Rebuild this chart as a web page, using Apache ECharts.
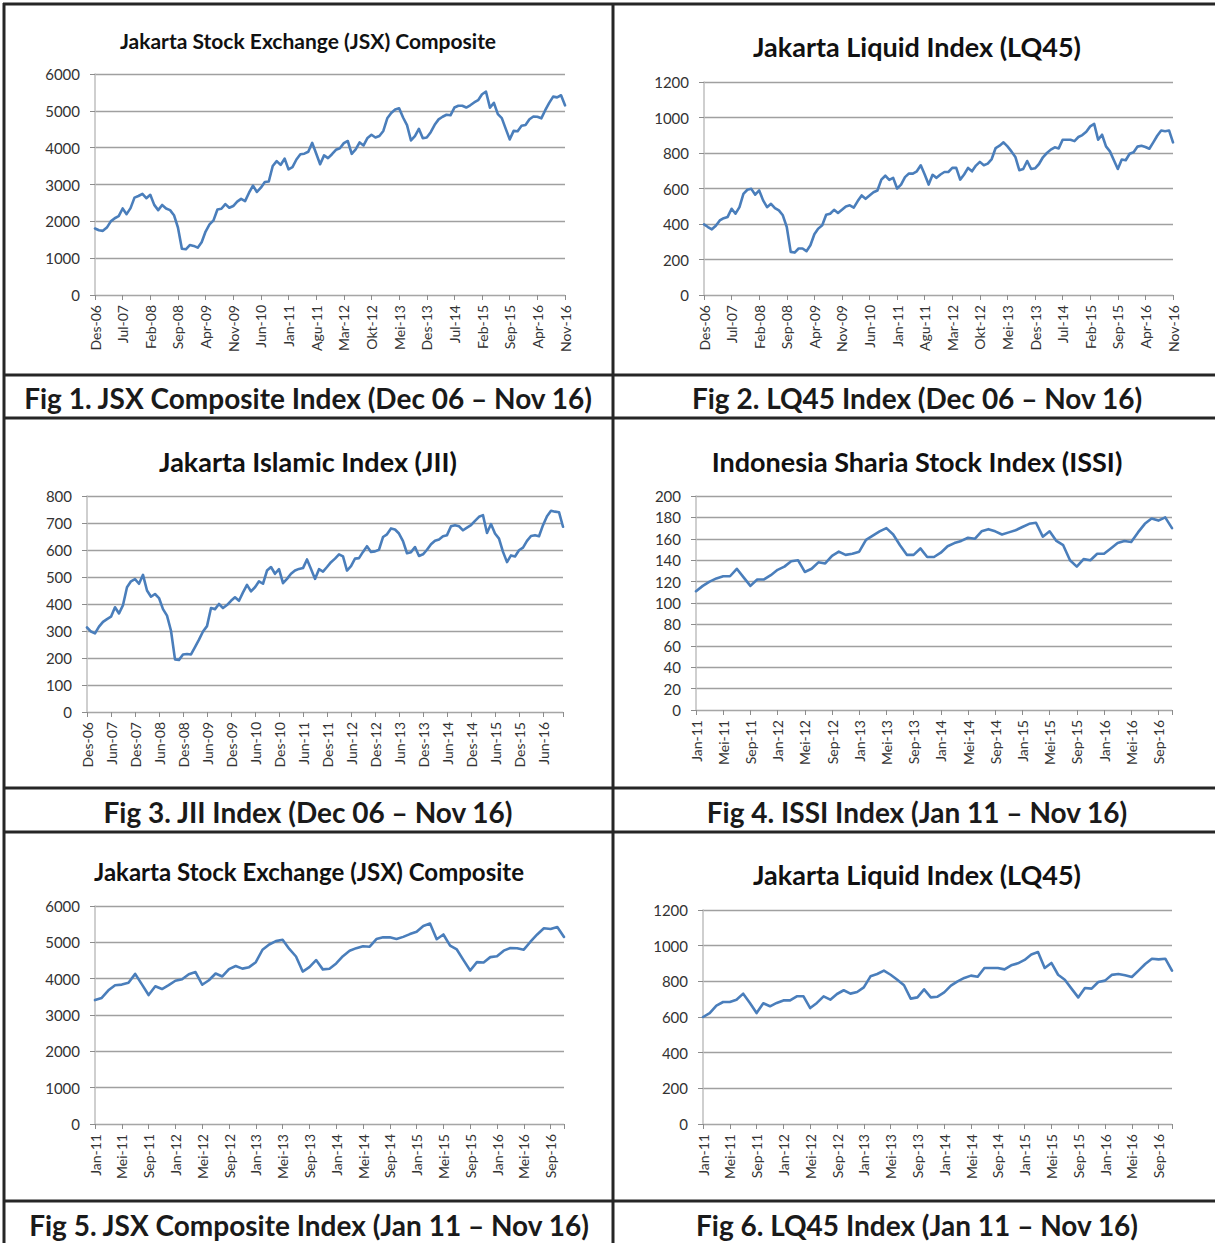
<!DOCTYPE html>
<html>
<head>
<meta charset="utf-8">
<title>Indeks Saham Indonesia</title>
<script src="https://cdn.jsdelivr.net/npm/echarts@6/dist/echarts.min.js"></script>
<style>
  html, body { margin: 0; padding: 0; background: #fff; }
  #main { width: 1215px; height: 1243px; }
</style>
</head>
<body>
<div id="main"></div>
<script>
  // nama bulan (Indonesia)
  var MONTHS = ['Jan', 'Feb', 'Mar', 'Apr', 'Mei', 'Jun', 'Jul', 'Agu', 'Sep', 'Okt', 'Nov', 'Des'];

  function monthLabels(year, month, count) {
    var out = [];
    for (var i = 0; i < count; i++) {
      var m = (month + i) % 12;
      var y = year + Math.floor((month + i) / 12);
      out.push(MONTHS[m] + '-' + String(y).slice(2));
    }
    return out;
  }

  var catLong = monthLabels(2006, 11, 120);   // Des-06 .. Nov-16
  var catShort = monthLabels(2011, 0, 71);    // Jan-11 .. Nov-16

  // JSX Composite, Des-06 .. Nov-16
  var jsx = [1806,
    1758, 1741, 1830, 1999, 2084, 2139, 2349, 2195, 2359, 2643, 2688, 2746,
    2627, 2721, 2447, 2304, 2444, 2350, 2304, 2166, 1832, 1257, 1241, 1355,
    1333, 1285, 1434, 1723, 1917, 2027, 2323, 2342, 2468, 2368, 2416, 2534,
    2611, 2549, 2777, 2971, 2797, 2914, 3069, 3082, 3501, 3635, 3531, 3704,
    3410, 3470, 3679, 3820, 3837, 3889, 4131, 3842, 3549, 3791, 3715, 3822,
    3942, 3985, 4122, 4181, 3833, 3956, 4142, 4060, 4263, 4350, 4276, 4317,
    4454, 4796, 4941, 5034, 5069, 4819, 4610, 4195, 4316, 4511, 4256, 4274,
    4419, 4620, 4768, 4840, 4894, 4879, 5089, 5137, 5138, 5090, 5150, 5227,
    5289, 5450, 5519, 5086, 5216, 4911, 4803, 4510, 4224, 4455, 4446, 4593,
    4615, 4771, 4845, 4839, 4797, 5017, 5216, 5386, 5365, 5423, 5149];

  // LQ45, Des-06 .. Des-10
  var lq45Early = [398,
    383, 370, 390, 420, 433, 440, 486, 458, 495, 570, 593, 598,
    565, 589, 533, 495, 514, 490, 477, 449, 383, 243, 239, 262,
    262, 247, 280, 342, 374, 393, 452, 458, 480, 462, 480, 499,
    505, 492, 529, 561, 542, 561, 579, 589, 650, 672, 648, 660];

  // LQ45, Jan-11 .. Nov-16
  var lq45Late = [
    600, 622, 664, 684, 684, 697, 731, 679, 622, 677, 660, 679,
    693, 693, 716, 716, 650, 679, 716, 697, 729, 750, 731, 740,
    766, 828, 841, 860, 837, 809, 778, 703, 710, 755, 710, 714,
    738, 776, 800, 819, 832, 826, 875, 875, 875, 867, 890, 901,
    920, 950, 964, 875, 903, 837, 809, 759, 710, 763, 759, 796,
    804, 836, 841, 834, 824, 860, 897, 927, 923, 927, 860];

  // JII, Des-06 .. Nov-16
  var jii = [313,
    298, 291, 316, 334, 344, 353, 388, 365, 396, 462, 484, 492,
    475, 508, 450, 427, 437, 422, 381, 357, 301, 195, 193, 213,
    215, 213, 240, 268, 298, 318, 385, 381, 400, 385, 396, 412,
    425, 412, 443, 471, 447, 462, 484, 475, 524, 537, 512, 529,
    477, 493, 512, 524, 530, 533, 565, 530, 493, 529, 520, 537,
    555, 568, 584, 576, 524, 540, 568, 570, 593, 614, 593, 595,
    601, 648, 658, 680, 676, 661, 633, 588, 592, 611, 578, 584,
    601, 621, 634, 639, 651, 655, 688, 692, 688, 673, 683, 692,
    708, 723, 729, 663, 696, 661, 642, 593, 555, 580, 576, 599,
    609, 634, 652, 655, 651, 692, 725, 745, 742, 740, 686];

  // ISSI, Jan-11 .. Nov-16
  var issi = [
    111, 116, 120, 123, 125, 125, 132, 124, 116, 122, 122, 126,
    131, 134, 139, 140, 129, 132, 138, 137, 144, 148, 145, 146,
    148, 159, 163, 167, 170, 164, 154, 145, 145, 151, 143, 143,
    147, 153, 156, 158, 161, 160, 167, 169, 167, 164, 166, 168,
    171, 174, 175, 162, 167, 158, 154, 140, 134, 141, 140, 146,
    146, 151, 156, 158, 157, 166, 174, 179, 177, 180, 170];

  var panels = [
    {
      title: 'Jakarta Stock Exchange (JSX) Composite', titleSize: 21, tx: 308, ty: 40,
      caption: 'Fig 1. JSX Composite Index (Dec 06 \u2013 Nov 16)', cy: 398,
      cats: catLong, data: jsx, max: 6000, step: 1000, every: 7,
      grid: {left: 95, top: 74, width: 470, height: 221}
    },
    {
      title: 'Jakarta Liquid Index (LQ45)', titleSize: 27, tx: 917, ty: 46,
      caption: 'Fig 2. LQ45 Index (Dec 06 \u2013 Nov 16)', cy: 398,
      cats: catLong, data: lq45Early.concat(lq45Late), max: 1200, step: 200, every: 7,
      grid: {left: 704, top: 82, width: 469, height: 213}
    },
    {
      title: 'Jakarta Islamic Index (JII)', titleSize: 27, tx: 308, ty: 461,
      caption: 'Fig 3. JII Index (Dec 06 \u2013 Nov 16)', cy: 812,
      cats: catLong, data: jii, max: 800, step: 100, every: 6,
      grid: {left: 87, top: 496, width: 476, height: 216}
    },
    {
      title: 'Indonesia Sharia Stock Index (ISSI)', titleSize: 27, tx: 917, ty: 461,
      caption: 'Fig 4. ISSI Index (Jan 11 \u2013 Nov 16)', cy: 812,
      cats: catShort, data: issi, max: 200, step: 20, every: 4,
      grid: {left: 696, top: 496, width: 476, height: 214}
    },
    {
      title: 'Jakarta Stock Exchange (JSX) Composite', titleSize: 24, tx: 309, ty: 871,
      caption: 'Fig 5. JSX Composite Index (Jan 11 \u2013 Nov 16)', cy: 1225,
      cats: catShort, data: jsx.slice(49), max: 6000, step: 1000, every: 4,
      grid: {left: 95, top: 906, width: 469, height: 218}
    },
    {
      title: 'Jakarta Liquid Index (LQ45)', titleSize: 27, tx: 917, ty: 874,
      caption: 'Fig 6. LQ45 Index (Jan 11 \u2013 Nov 16)', cy: 1225,
      cats: catShort, data: lq45Late, max: 1200, step: 200, every: 4,
      grid: {left: 703, top: 910, width: 469, height: 214}
    }
  ];

  var FONT = 'Lato, "Open Sans", sans-serif';
  var LINE = '#4a7ebb';
  var BORDER = '#262626';

  var titles = [], grids = [], xAxes = [], yAxes = [], series = [];

  panels.forEach(function (p, i) {
    titles.push({
      text: p.title, left: p.tx, top: p.ty, padding: 0,
      textAlign: 'center', textVerticalAlign: 'middle',
      textStyle: {fontFamily: FONT, fontWeight: 'bold', fontSize: p.titleSize, color: '#111'}
    });
    titles.push({
      text: p.caption, left: p.tx, top: p.cy, padding: 0,
      textAlign: 'center', textVerticalAlign: 'middle',
      textStyle: {fontFamily: FONT, fontWeight: 'bold', fontSize: 28, color: '#1a1a1a'}
    });
    grids.push(Object.assign({containLabel: false}, p.grid));

    var last = p.cats.length - 1;
    xAxes.push({
      gridIndex: i, type: 'category', boundaryGap: false, data: p.cats,
      axisLine: {lineStyle: {color: '#a6a6a6', width: 1.2}},
      axisTick: {
        length: 5, lineStyle: {color: '#8c8c8c'},
        interval: function (idx) { return idx % p.every === 0 || idx === last; }
      },
      axisLabel: {
        rotate: 90, interval: p.every - 1, margin: 10,
        fontFamily: FONT, fontSize: 14, color: '#333'
      },
      splitLine: {show: false}
    });
    yAxes.push({
      gridIndex: i, type: 'value', min: 0, max: p.max, interval: p.step,
      axisLine: {show: true, lineStyle: {color: '#bfbfbf', width: 1.5}},
      axisTick: {show: true, length: 5, lineStyle: {color: '#8c8c8c'}},
      axisLabel: {
        margin: 15, fontFamily: FONT, fontSize: 15, color: '#333',
        formatter: function (v) { return String(v); }
      },
      splitLine: {lineStyle: {color: '#a0a0a0', width: 1.3}}
    });
    series.push({
      type: 'line', xAxisIndex: i, yAxisIndex: i, data: p.data,
      symbol: 'none', showSymbol: false, silent: true,
      lineStyle: {color: LINE, width: 2.6, join: 'round', cap: 'round'},
      itemStyle: {color: LINE}
    });
  });

  // garis tabel
  var borders = [];
  [4, 375, 418, 788, 832, 1201].forEach(function (y) {
    borders.push({type: 'line', shape: {x1: 3, y1: y, x2: 1215, y2: y},
      style: {stroke: BORDER, lineWidth: 3}, silent: true});
  });
  [4, 613].forEach(function (x) {
    borders.push({type: 'line', shape: {x1: x, y1: 3, x2: x, y2: 1243},
      style: {stroke: BORDER, lineWidth: 3}, silent: true});
  });

  var chart = echarts.init(document.getElementById('main'), null, {renderer: 'svg'});
  chart.setOption({
    animation: false,
    backgroundColor: '#fff',
    title: titles,
    grid: grids,
    xAxis: xAxes,
    yAxis: yAxes,
    series: series,
    graphic: borders
  });
</script>
</body>
</html>
